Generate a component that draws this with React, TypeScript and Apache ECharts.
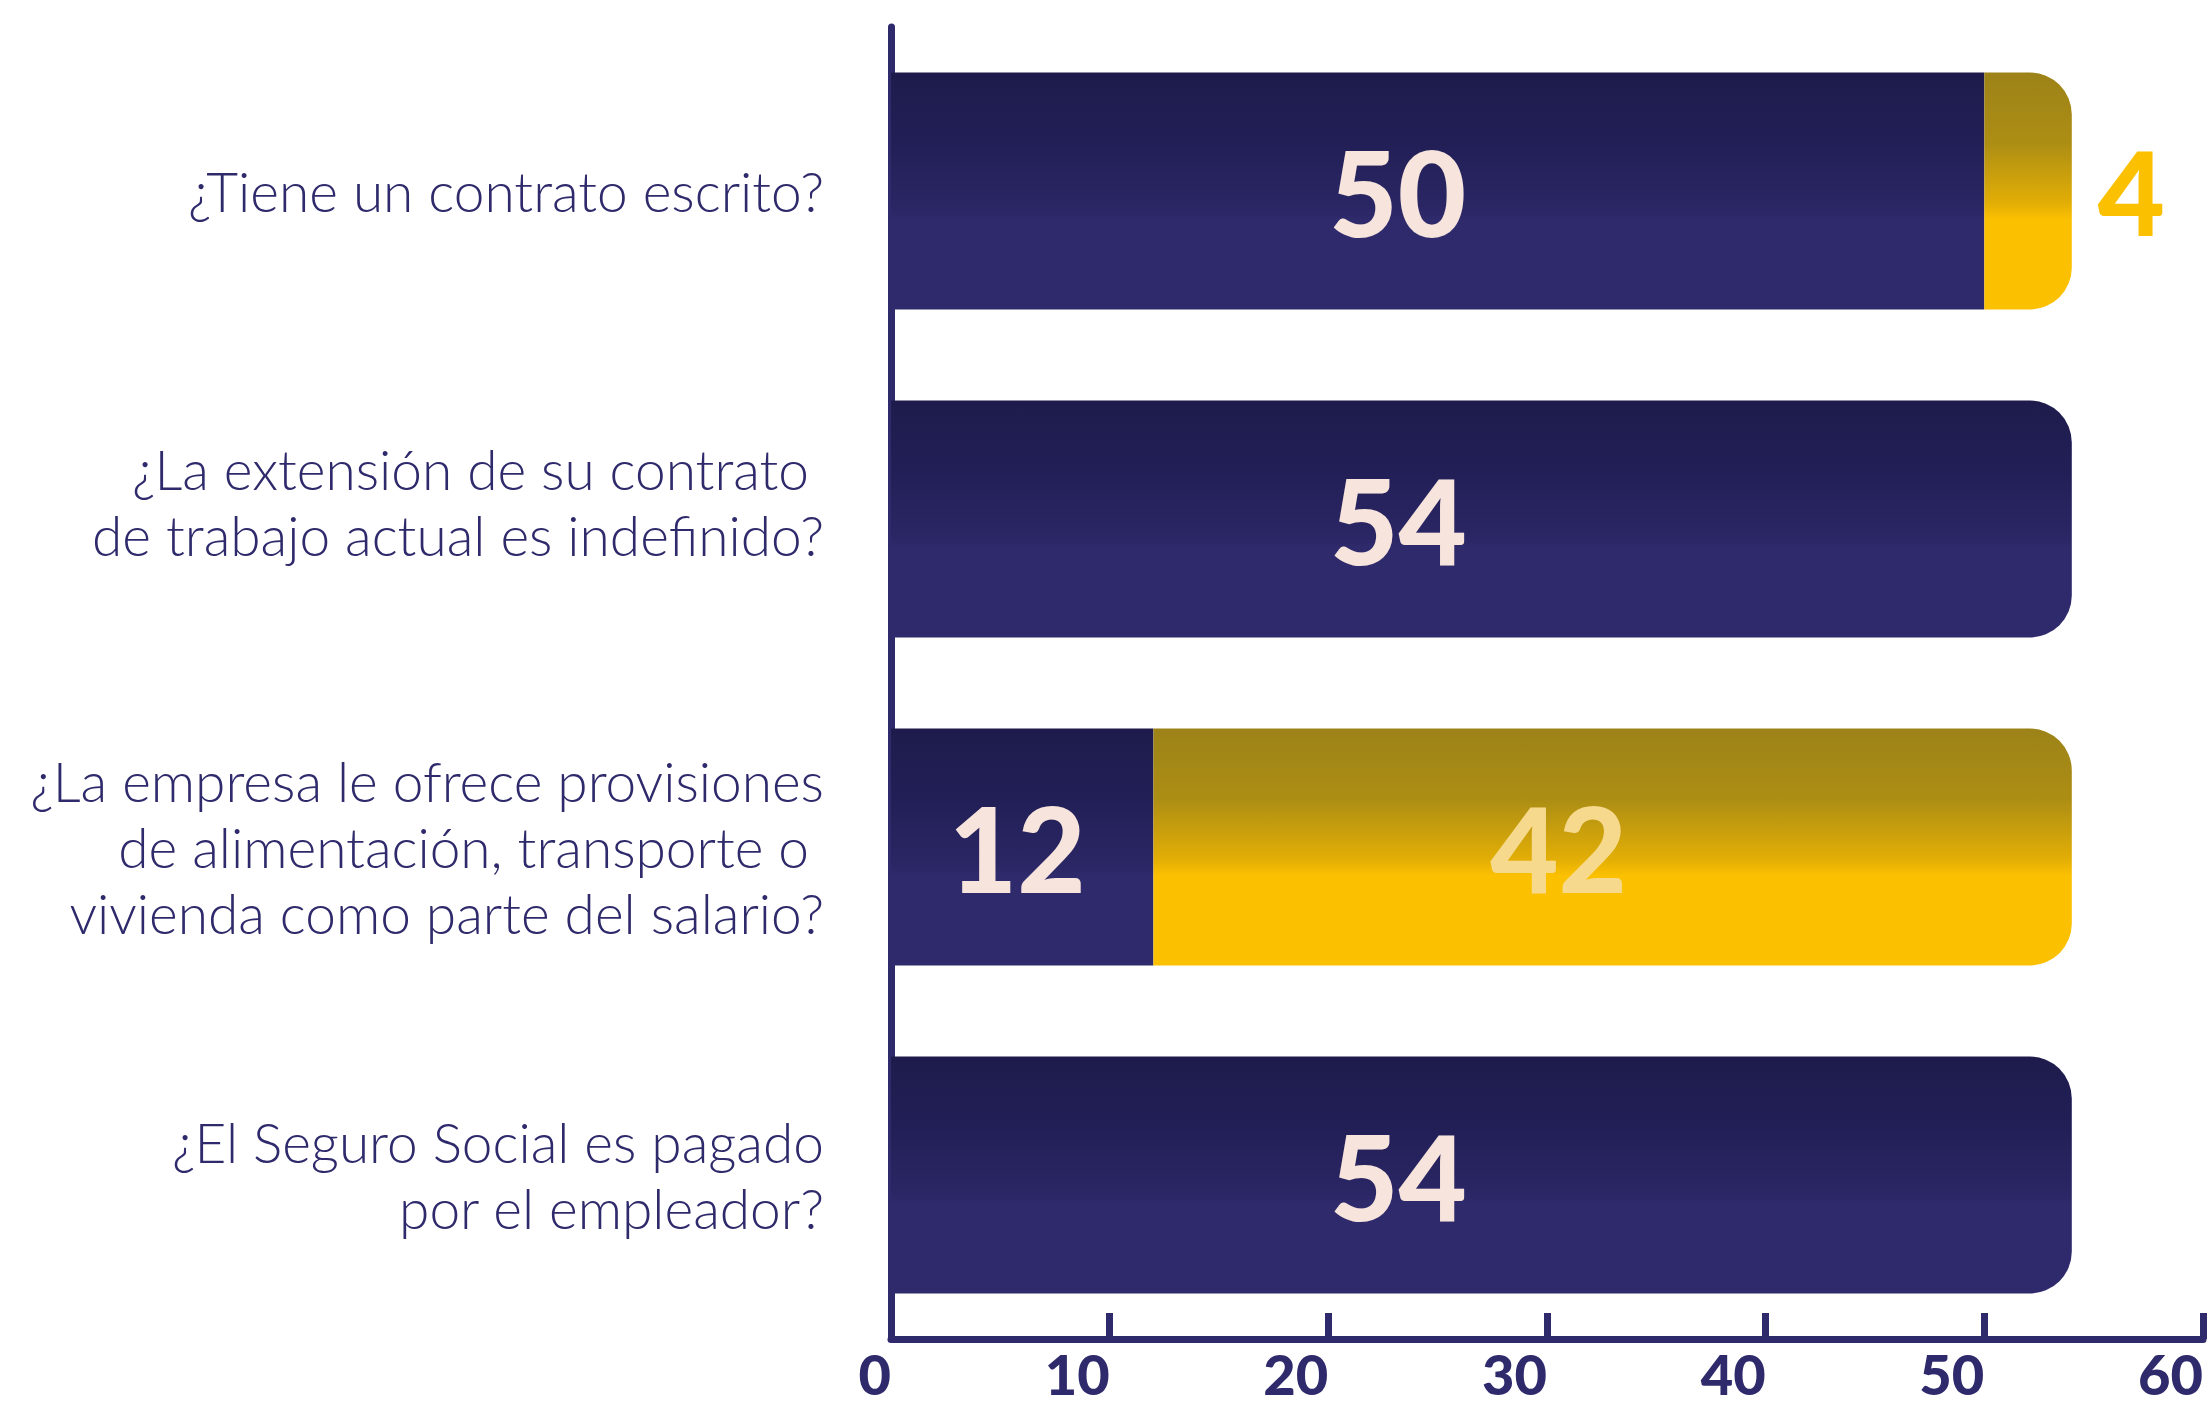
import React, { useEffect, useRef } from "react";
import * as echarts from "echarts";

const categories = [
  "¿Tiene un contrato escrito?",
  "¿La extensión de su contrato \nde trabajo actual es indefinido?",
  "¿La empresa le ofrece provisiones\nde alimentación, transporte o \nvivienda como parte del salario?",
  "¿El Seguro Social es pagado\npor el empleador?",
];
const siValues = [50, 54, 12, 54];
const noValues = [4, 0, 42, 0];
const xTicks = { min: 0, max: 60, interval: 10 };

const NAVY = "#2e2a6b";
const YELLOW = "#fbc000";
const NUM_FONT = "Lato, Inter, 'DejaVu Sans', sans-serif";
const LABEL_FONT = "Lato, 'Noto Sans', sans-serif";

// label nudges (style only)
const siLabelOffsetX = [-40, -83, -5, -83];
const noLabelOffsetX = [0, 0, -54, 0];
const catRaise = [false, true, false, false];

const navyGrad = new echarts.graphic.LinearGradient(0, 0, 0, 1, [
  { offset: 0, color: "#1e1b4c" },
  { offset: 0.3, color: "#221f57" },
  { offset: 0.56, color: "#2a2664" },
  { offset: 0.62, color: NAVY },
  { offset: 1, color: NAVY },
]);
const yellowGrad = new echarts.graphic.LinearGradient(0, 0, 0, 1, [
  { offset: 0, color: "#9c8218" },
  { offset: 0.3, color: "#ad8e14" },
  { offset: 0.55, color: "#e2ae06" },
  { offset: 0.62, color: YELLOW },
  { offset: 1, color: YELLOW },
]);

export default function App() {
  const ref = useRef<HTMLDivElement>(null);
  useEffect(() => {
    if (!ref.current) return;
    const chart = echarts.init(ref.current, null, { renderer: "svg" });
    const siData = siValues.map((v, i) => {
      const isEnd = !noValues[i];
      return {
        value: v,
        itemStyle: { borderRadius: isEnd ? [0, 42, 42, 0] : 0 },
        label: { offset: [siLabelOffsetX[i], 0] },
      };
    });
    const noData = noValues.map((v, i) => {
      if (!v) return { value: "-" };
      const small = v < 10;
      return {
        value: v,
        itemStyle: { borderRadius: [0, 42, 42, 0] },
        label: small
          ? { position: "right", distance: 26, color: YELLOW, fontSize: 116 }
          : { position: "inside", color: "#f6d98c", offset: [noLabelOffsetX[i], 0] },
      };
    });
    chart.setOption({
      animation: false,
      backgroundColor: "#ffffff",
      grid: { left: 891, right: 5, top: 27, bottom: 69, containLabel: false },
      xAxis: {
        type: "value",
        min: xTicks.min,
        max: xTicks.max,
        interval: xTicks.interval,
        axisLine: { show: true, lineStyle: { color: NAVY, width: 7 } },
        axisTick: { show: true, inside: true, length: 26, lineStyle: { color: NAVY, width: 7 } },
        splitLine: { show: false },
        axisLabel: {
          align: "right",
          margin: 8,
          lineHeight: 52,
          color: NAVY,
          fontFamily: NUM_FONT,
          fontWeight: 900,
          fontSize: 56,
        },
      },
      yAxis: {
        type: "category",
        inverse: true,
        data: categories,
        axisLine: { show: true, lineStyle: { color: NAVY, width: 7 } },
        axisTick: { show: false },
        axisLabel: {
          margin: 67,
          color: NAVY,
          fontFamily: LABEL_FONT,
          fontWeight: 300,
          fontSize: 55,
          lineHeight: 66,
          align: "right",
          formatter: (value: string, index: number) => {
            const lines = value.split("\n").map((l) => `{t|${l}}`);
            if (catRaise[index]) lines.push("{gap| }");
            return lines.join("\n");
          },
          rich: {
            t: {
              color: NAVY,
              fontFamily: LABEL_FONT,
              fontWeight: 300,
              fontSize: 55,
              lineHeight: 66,
            },
            gap: { fontSize: 1, lineHeight: 34 },
          },
        },
      },
      series: [
        {
          name: "Sí",
          type: "bar",
          stack: "total",
          barWidth: 237,
          data: siData,
          itemStyle: { color: navyGrad },
          label: {
            show: true,
            position: "inside",
            color: "#f7e4dc",
            fontFamily: NUM_FONT,
            fontWeight: 900,
            fontSize: 118,
          },
        },
        {
          name: "No",
          type: "bar",
          stack: "total",
          barWidth: 237,
          data: noData,
          itemStyle: { color: yellowGrad },
          label: {
            show: true,
            position: "inside",
            fontFamily: NUM_FONT,
            fontWeight: 900,
            fontSize: 118,
          },
        },
      ],
    });
    return () => chart.dispose();
  }, []);
  return (
    <div
      ref={ref}
      style={{ position: "fixed", left: 0, top: 0, width: 2208, height: 1408, background: "#fff" }}
    />
  );
}
